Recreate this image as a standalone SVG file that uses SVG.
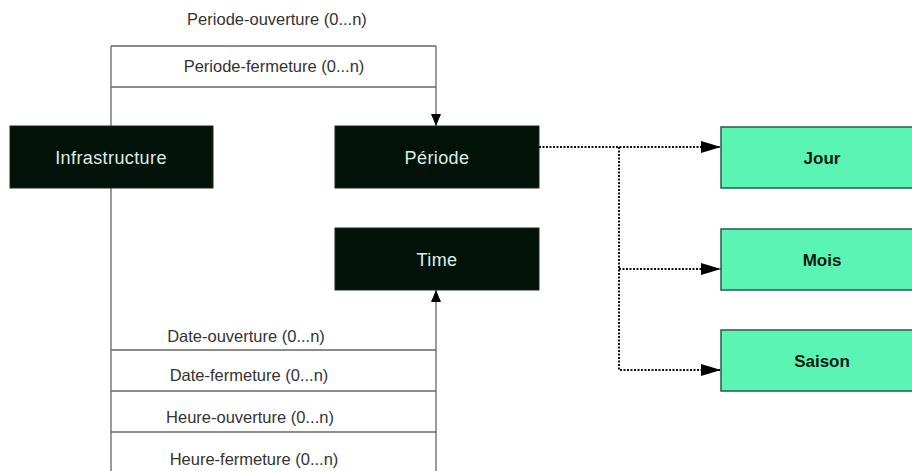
<svg xmlns="http://www.w3.org/2000/svg" width="912" height="471" viewBox="0 0 912 471">
<defs>
<style>
.dark{fill:#021208;stroke:#1a2a20;stroke-width:1}
.green{fill:#5af5b4;stroke:#2a5a45;stroke-width:1.5}
.dt{font-family:"Liberation Sans",Arial,sans-serif;font-size:18px;letter-spacing:0.4px;fill:#dcefe6;text-anchor:middle}
.gt{font-family:"Liberation Sans",Arial,sans-serif;font-size:17px;font-weight:bold;fill:#0a1a12;text-anchor:middle}
.lbl{font-family:"Liberation Sans",Arial,sans-serif;font-size:16.5px;fill:#333;text-anchor:middle}
.ln{stroke:#666;stroke-width:1.3;fill:none}
.dot{stroke:#111;stroke-width:2;stroke-dasharray:2 1.5;fill:none}
</style>
<marker id="ah" markerWidth="12" markerHeight="10" refX="12" refY="5" orient="auto" markerUnits="userSpaceOnUse">
<path d="M0,0 L12,5 L0,10 Z" fill="#000"/>
</marker>
<marker id="ah2" markerWidth="20" markerHeight="12" refX="20" refY="6" orient="auto" markerUnits="userSpaceOnUse">
<path d="M0,0 L20,6 L0,12 Z" fill="#000"/>
</marker>
</defs>
<g id="connectors">
<line class="ln" x1="111" y1="46" x2="436" y2="46"/>
<line class="ln" x1="111" y1="87" x2="436" y2="87"/>
<line class="ln" x1="111" y1="46" x2="111" y2="471"/>
<line class="ln" x1="436" y1="46" x2="436" y2="126" marker-end="url(#ah)"/>
<line class="ln" x1="436" y1="471" x2="436" y2="290" marker-end="url(#ah)"/>
<line class="ln" x1="111" y1="350" x2="436" y2="350"/>
<line class="ln" x1="111" y1="391" x2="436" y2="391"/>
<line class="ln" x1="111" y1="432" x2="436" y2="432"/>
<text class="lbl" x="277" y="25">Periode-ouverture (0...n)</text>
<text class="lbl" x="274" y="72">Periode-fermeture (0...n)</text>
<text class="lbl" x="246" y="342">Date-ouverture (0...n)</text>
<text class="lbl" x="249" y="381">Date-fermeture (0...n)</text>
<text class="lbl" x="250" y="423">Heure-ouverture (0...n)</text>
<text class="lbl" x="254" y="465">Heure-fermeture (0...n)</text>
<line class="dot" x1="539" y1="147" x2="721" y2="147" marker-end="url(#ah2)"/>
<polyline class="dot" points="619,147 619,370 721,370" marker-end="url(#ah2)"/>
<line class="dot" x1="619" y1="269" x2="721" y2="269" marker-end="url(#ah2)"/>
</g>
<g id="infrastructure"><rect class="dark" x="10" y="126" width="203" height="62"/><text class="dt" x="111" y="164">Infrastructure</text></g>
<g id="periode"><rect class="dark" x="335" y="126" width="204" height="62"/><text class="dt" x="437" y="164">Période</text></g>
<g id="time"><rect class="dark" x="335" y="228" width="204" height="62"/><text class="dt" x="437" y="266">Time</text></g>
<g id="jour"><rect class="green" x="721" y="127" width="200" height="61"/><text class="gt" x="822" y="164">Jour</text></g>
<g id="mois"><rect class="green" x="721" y="229" width="200" height="61"/><text class="gt" x="822" y="266">Mois</text></g>
<g id="saison"><rect class="green" x="721" y="330" width="200" height="61"/><text class="gt" x="822" y="367">Saison</text></g>
</svg>
